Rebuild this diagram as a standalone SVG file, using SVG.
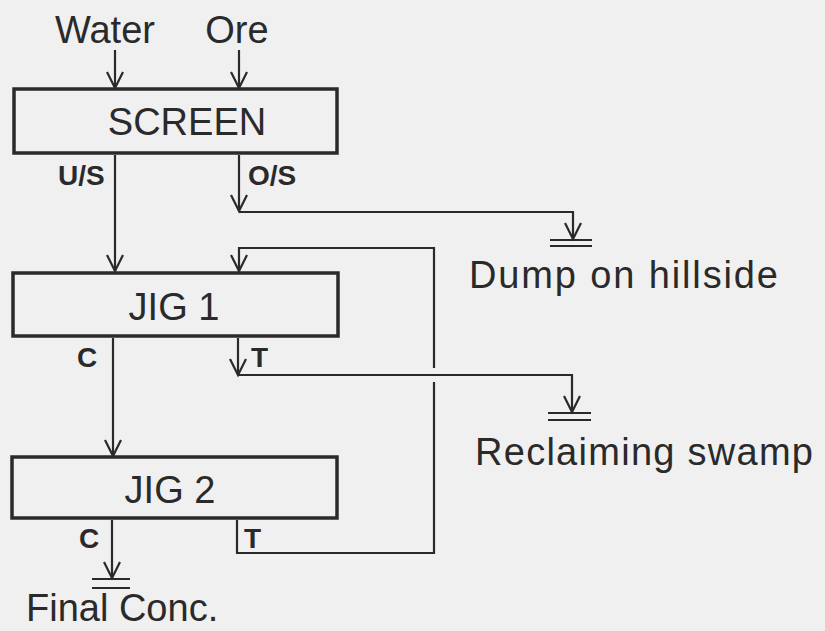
<svg xmlns="http://www.w3.org/2000/svg" width="825" height="631" viewBox="0 0 825 631">
<style>
  .box{fill:none;stroke:#2a2a2a;stroke-width:3.5}
  .ln{fill:none;stroke:#2a2a2a;stroke-width:2.2}
  .t{font-family:"Liberation Sans",Arial,sans-serif;fill:#2a2a2a}
  .big{font-size:38px}
  .sm{font-size:28px;font-weight:bold}
</style>
<defs>
  <marker id="arr" viewBox="-16 -10 18 20" refX="0" refY="0" markerWidth="18" markerHeight="20" markerUnits="userSpaceOnUse" orient="auto" overflow="visible">
    <path d="M-16,-8 L0,0 L-16,8" fill="none" stroke="#2a2a2a" stroke-width="2.2"/>
  </marker>
</defs>
<rect width="825" height="631" fill="#f0f0f0"/>

<g id="inputs">
  <text class="t big" x="105" y="43" text-anchor="middle">Water</text>
  <text class="t big" x="237" y="43" text-anchor="middle">Ore</text>
</g>

<g id="screen">
  <rect class="box" x="14" y="89" width="323" height="64"/>
  <text class="t big" x="187" y="135" text-anchor="middle">SCREEN</text>
</g>

<g id="jig1">
  <rect class="box" x="13" y="273" width="325" height="63"/>
  <text class="t big" x="174" y="320" text-anchor="middle">JIG 1</text>
</g>

<g id="jig2">
  <rect class="box" x="12" y="457" width="325" height="61"/>
  <text class="t big" x="170" y="503" text-anchor="middle">JIG 2</text>
</g>

<g id="dump">
  <path class="ln" d="M550,240 H592 M550,246 H592"/>
  <text class="t big" x="469" y="288" textLength="309" lengthAdjust="spacing">Dump on hillside</text>
</g>

<g id="swamp">
  <path class="ln" d="M548,413 H591 M548,420 H591"/>
  <text class="t big" x="475" y="465" textLength="338" lengthAdjust="spacing">Reclaiming swamp</text>
</g>

<g id="final">
  <path class="ln" d="M92,579 H130 M92,588 H130"/>
  <text class="t big" x="26" y="621">Final Conc.</text>
</g>

<g id="connectors">
  <path class="ln" d="M115,50 V88" marker-end="url(#arr)"/>
  <path class="ln" d="M239,50 V88" marker-end="url(#arr)"/>
  <path class="ln" d="M115,155 V271" marker-end="url(#arr)"/>
  <path class="ln" d="M239,155 V211" marker-end="url(#arr)"/>
  <path class="ln" d="M239,212 H573 V239" marker-end="url(#arr)"/>
  <path class="ln" d="M113,338 V456" marker-end="url(#arr)"/>
  <path class="ln" d="M238,338 V375" marker-end="url(#arr)"/>
  <path class="ln" d="M238,375 H572 V412" marker-end="url(#arr)"/>
  <path class="ln" d="M112,520 V578" marker-end="url(#arr)"/>
  <path class="ln" d="M237,520 V553 H434 V382"/>
  <path class="ln" d="M434,368 V248 H239 V271" marker-end="url(#arr)"/>
</g>

<g id="labels">
  <text class="t sm" x="58" y="185">U/S</text>
  <text class="t sm" x="248" y="185">O/S</text>
  <text class="t sm" x="77" y="367">C</text>
  <text class="t sm" x="251" y="367">T</text>
  <text class="t sm" x="79" y="548">C</text>
  <text class="t sm" x="244" y="548">T</text>
</g>
</svg>
